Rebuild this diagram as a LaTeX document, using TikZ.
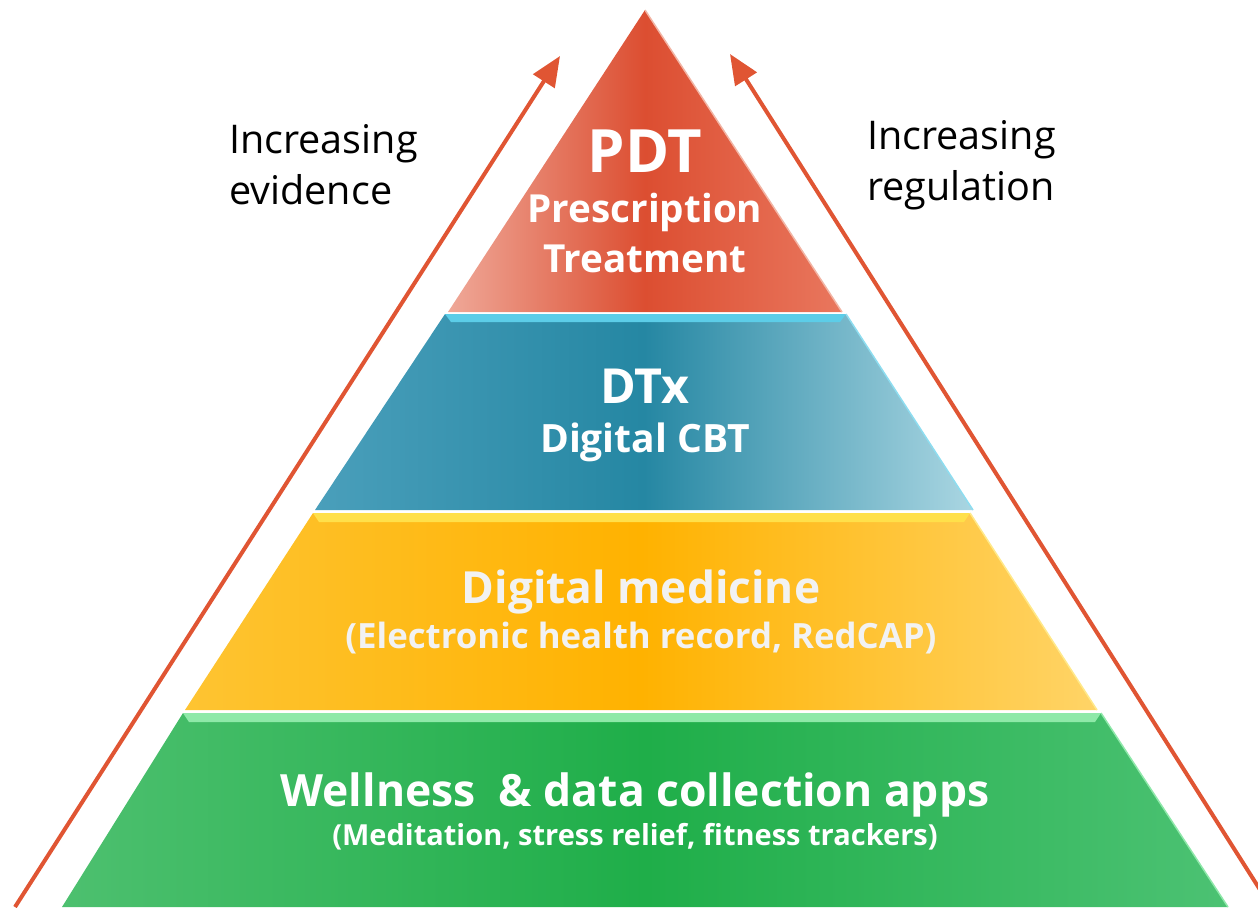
\documentclass[tikz,border=0pt]{standalone}
\usepackage{fontspec}
\setmainfont{Open Sans}
\usetikzlibrary{arrows.meta}
\definecolor{arr}{HTML}{E05533}
\definecolor{txtgray}{HTML}{F2F2F2}
\definecolor{rL}{HTML}{EFA898}\definecolor{rM}{HTML}{DC4E31}\definecolor{rR}{HTML}{E9775E}\definecolor{rE}{HTML}{F2B5A5}
\definecolor{bL}{HTML}{4A9FBB}\definecolor{bM}{HTML}{2587A3}\definecolor{bR}{HTML}{AAD6E2}\definecolor{bT}{HTML}{5CCDE8}\definecolor{bE}{HTML}{8EDDF0}
\definecolor{yL}{HTML}{FEC432}\definecolor{yM}{HTML}{FFB200}\definecolor{yR}{HTML}{FFD467}\definecolor{yT}{HTML}{FFE04A}\definecolor{yE}{HTML}{FFE98A}
\definecolor{gL}{HTML}{4DC06F}\definecolor{gM}{HTML}{1FAE49}\definecolor{gR}{HTML}{4CC273}\definecolor{gT}{HTML}{8EE9A8}\definecolor{gE}{HTML}{8FE8AA}
\tikzset{
  sidelabel/.style={anchor=west, align=left, text=black, inner sep=0pt, font=\fontsize{22.5pt}{29pt}\selectfont},
  tiertext/.style={text=white, align=center, inner sep=0pt, anchor=base},
  evarrow/.style={draw=arr, line width=0.08cm, -{Triangle[length=0.6cm,width=0.5cm]}},
}
\begin{document}
\begin{tikzpicture}[x=0.02cm,y=-0.02cm]
\useasboundingbox (0,0) rectangle (1258,907);
\clip (0,0) rectangle (1258,907);
% red apex
\shade[left color=rL, right color=rR, middle color=rM]
  (645,10) -- (842,312) -- (448,312) -- cycle;
\draw[rE, line width=0.03cm] (645,10) -- (842,312);
% blue tier
\shade[left color=bL, right color=bR, middle color=bM]
  (445,314) -- (846,314) -- (973,510) -- (315,510) -- cycle;
\fill[bT] (445,314) -- (846,314) -- (840,322) -- (451,322) -- cycle;
\draw[bE, line width=0.03cm] (846,314) -- (973,510);
% yellow tier
\shade[left color=yL, right color=yR, middle color=yM]
  (313,513) -- (970,513) -- (1097,710) -- (185,710) -- cycle;
\fill[yT] (313,513) -- (970,513) -- (964,522) -- (319,522) -- cycle;
\draw[yE, line width=0.03cm] (970,513) -- (1097,710);
% green tier
\shade[left color=gL, right color=gR, middle color=gM]
  (183,713) -- (1101,713) -- (1228,907) -- (62,907) -- cycle;
\fill[gT] (183,713) -- (1101,713) -- (1095,722) -- (189,722) -- cycle;
\draw[gE, line width=0.03cm] (1101,713) -- (1228,907);

% arrows
\coordinate (lb) at (15,907);
\coordinate (lt) at (560,56);
\coordinate (rb) at (1271,907);
\coordinate (rt) at (730,54);
\draw[evarrow] (lb) -- (lt);
\draw[evarrow] (rb) -- (rt);

% side labels
\node[sidelabel] (ev) at (229,165) {Increasing\\evidence};
\node[sidelabel] (rg) at (867,165) {Increasing\\regulation};

% tier texts
\node[tiertext, font=\bfseries\fontsize{34pt}{34pt}\selectfont] (pdt) at (645,172) {PDT};
\node[tiertext, font=\bfseries\fontsize{22pt}{22pt}\selectfont] (pdt2) at (645,222) {Prescription};
\node[tiertext, font=\bfseries\fontsize{22pt}{22pt}\selectfont] (pdt3) at (645,272) {Treatment};
\node[tiertext, font=\bfseries\fontsize{27.5pt}{27.5pt}\selectfont] (dtx) at (645,403) {DTx};
\node[tiertext, font=\bfseries\fontsize{22.2pt}{22.2pt}\selectfont] (dtx2) at (645,452) {Digital CBT};
\node[tiertext, text=txtgray, font=\bfseries\fontsize{25.2pt}{25.2pt}\selectfont] (dm) at (641,603) {Digital medicine};
\node[tiertext, text=txtgray, font=\bfseries\fontsize{19.8pt}{19.8pt}\selectfont] (dm2) at (641,648) {(Electronic health record, RedCAP)};
\node[tiertext, font=\bfseries\fontsize{25.3pt}{25.3pt}\selectfont] (wl) at (635,806) {Wellness \ \& data collection apps};
\node[tiertext, font=\bfseries\fontsize{16.5pt}{16.5pt}\selectfont] (wl2) at (635,845) {(Meditation, stress relief, fitness trackers)};
\end{tikzpicture}
\end{document}
